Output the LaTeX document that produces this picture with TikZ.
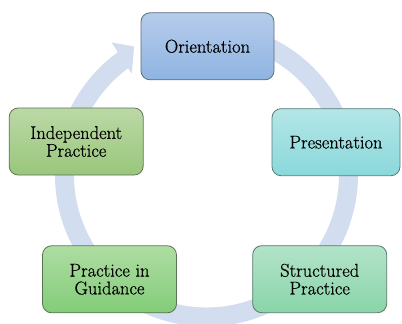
\documentclass[tikz,border=0pt]{standalone}
\usepackage{fontspec}
\newfontfamily\stagefont{Latin Modern Roman}[FakeBold=0.6]
\usetikzlibrary{shapes.misc}
\definecolor{ringc}{RGB}{210,221,239}
\definecolor{oTop}{RGB}{181,204,235}
\definecolor{oBot}{RGB}{143,180,225}
\definecolor{pTop}{RGB}{180,230,231}
\definecolor{pBot}{RGB}{138,216,219}
\definecolor{iTop}{RGB}{187,217,166}
\definecolor{iBot}{RGB}{154,198,124}
\definecolor{gTop}{RGB}{174,221,162}
\definecolor{gBot}{RGB}{131,204,121}
\definecolor{sTop}{RGB}{178,227,201}
\definecolor{sBot}{RGB}{137,213,169}
\tikzset{
  stage/.style={rectangle, rounded corners=9pt, line width=0.8pt,
    minimum height=67pt, inner sep=0pt, align=center,
    font=\stagefont\fontsize{18.5}{17.8}\selectfont},
}
\begin{document}
\begin{tikzpicture}[x=1pt,y=1pt]
\useasboundingbox (0,0) rectangle (402,-324);
\fill[white] (0,0) rectangle (402,-324);
% ring with arrowhead
\begin{scope}[shift={(206.5,-175)}]
  \draw[ringc, line width=19pt] (80:142) arc[start angle=80, end angle=-234.5, radius=142];
  \fill[ringc] (125.6:163) -- (119.4:147.5) -- (126.4:126) -- cycle;
\end{scope}
% stages
\node[stage, minimum width=133pt, top color=oTop, bottom color=oBot, draw=oBot!45!black!85] (ori) at (207.5,-46.3) {Orientation};
\node[stage, minimum width=128pt, top color=pTop, bottom color=pBot, draw=pBot!45!black!85] (pre) at (336,-142.2) {Presentation};
\node[stage, minimum width=134pt, top color=sTop, bottom color=sBot, draw=sBot!45!black!85] (str) at (319.7,-279.2) {Structured\\Practice};
\node[stage, minimum width=134pt, top color=gTop, bottom color=gBot, draw=gBot!45!black!85] (gui) at (109.5,-279.3) {Practice in\\Guidance};
\node[stage, minimum width=134pt, top color=iTop, bottom color=iBot, draw=iBot!45!black!85] (ind) at (76.2,-141.5) {Independent\\Practice};
\end{tikzpicture}
\end{document}
